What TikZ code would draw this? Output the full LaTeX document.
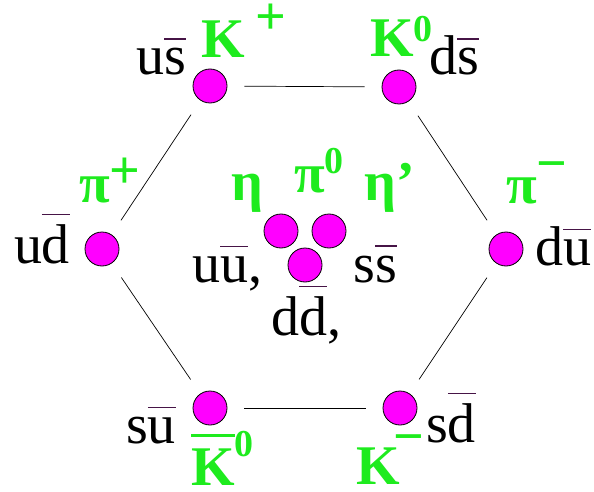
\documentclass[tikz,border=0pt]{standalone}
\usepackage{fontspec}
\setmainfont{Liberation Serif}
\usetikzlibrary{positioning}
\definecolor{qdot}{RGB}{255,0,255}
\definecolor{qgreen}{RGB}{30,235,30}
\definecolor{qbarcol}{RGB}{70,20,70}
% bar over an antiquark letter
\newcommand\qbar[1]{\setbox0\hbox{#1}\rlap{\color{qbarcol}\rule[\dimexpr\ht0+0.16em\relax]{\wd0}{0.03em}}\box0}
\newcommand\kbar[1]{\setbox0\hbox{#1}\rlap{\rule[\dimexpr\ht0+0.2em\relax]{\wd0}{0.05em}}\box0}
\newcommand\chg[3][38]{\raisebox{#2}{\fontsize{#1}{#1}\selectfont #3}}
\tikzset{
  ball/.style={
    circle, draw=black, line width=0.8pt, fill=qdot,
    minimum size=34pt, inner sep=0pt
  },
  link/.style={draw=black, line width=0.7pt, shorten <=17pt, shorten >=17pt},
  flav/.style={font=\fontsize{56}{60}\selectfont, inner sep=0pt, anchor=base},
  meson/.style={
    font=\fontsize{56}{60}\selectfont\bfseries, text=qgreen,
    inner sep=0pt, anchor=base west
  }
}
\begin{document}
\begin{tikzpicture}[x=1pt, y=-1pt]
  \useasboundingbox (0,0) rectangle (594,492);
  % the nonet
  \node[ball] (kp) at (210,86) {};
  \node[ball] (kz) at (399,87) {};
  \node[ball] (pp) at (102,249) {};
  \node[ball] (pm) at (506,249) {};
  \node[ball] (kzb) at (210,408) {};
  \node[ball] (km) at (400,408) {};
  \node[ball] (eta) at (281,231) {};
  \node[ball] (piz) at (329,231) {};
  \node[ball] (etap) at (305,265) {};
  \draw[link] (kp) -- (kz);
  \draw[link] (kz) -- (pm);
  \draw[link] (pm) -- (km);
  \draw[link] (km) -- (kzb);
  \draw[link] (kzb) -- (pp);
  \draw[link] (pp) -- (kp);
  % quark content
  \node[flav] (qus) at (161,75) {u\qbar{s}};
  \node[flav] (qds) at (454,75) {d\qbar{s}};
  \node[flav] (qud) at (42,263) {u\qbar{d}};
  \node[flav] (qdu) at (563,265) {d\qbar{u}};
  \node[flav] (quu) at (227,282) {u\qbar{u},};
  \node[flav] (qss) at (375,282) {s\qbar{s}};
  \node[flav] (qdd) at (306,335) {d\qbar{d},};
  \node[flav] (qsu) at (151,443) {s\qbar{u}};
  \node[flav] (qsd) at (451,442) {s\qbar{d}};
  % meson names
  \node[meson] (nkp) at (201,58) {K\kern11pt\chg[54]{23pt}{+}};
  \node[meson] (nkz) at (370,57) {K\chg{15pt}{0}};
  \node[meson] (npp) at (79,202) {π\chg[54]{14pt}{+}};
  \node[meson] (npm) at (506,203) {π\chg[54]{22pt}{−}};
  \node[meson] (neta) at (231,200) {η};
  \node[meson] (npz) at (294,192) {π\chg{19pt}{0}};
  \node[meson] (netap) at (364,200) {η'};
  \node[meson] (nkzb) at (191,485) {\kbar{K}\chg{29pt}{0}};
  \node[meson] (nkm) at (356,484) {K\kern-6pt\chg[54]{30pt}{−}};
\end{tikzpicture}
\end{document}
